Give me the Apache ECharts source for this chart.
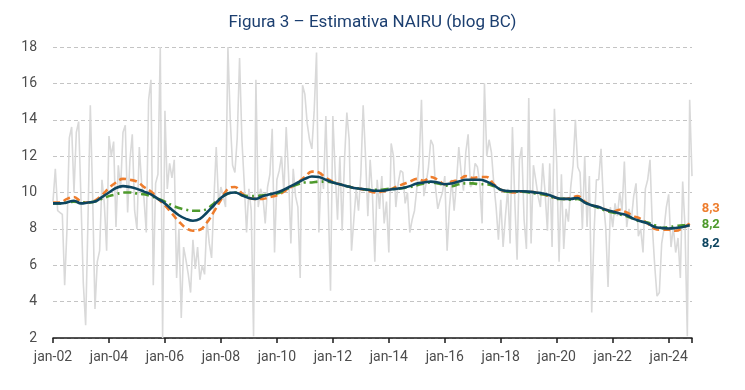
<!DOCTYPE html>
<html>
<head>
<meta charset="utf-8">
<script src="https://cdn.jsdelivr.net/npm/echarts@6/dist/echarts.min.js"></script>
<style>
html,body{margin:0;padding:0;background:#fff;}
#chart{width:745px;height:390px;}
</style>
</head>
<body>
<div id="chart"></div>
<script>
// Monthly observed series, jan-2002 .. nov-2024 (light gray)
var observed = [
9.5,11.3,9.0,8.9,8.8,4.9,8.0,13.0,13.6,10.0,13.3,13.9,
9.6,5.0,2.7,8.5,14.8,9.8,3.6,6.2,6.8,10.7,9.4,6.8,
13.1,12.0,12.8,8.1,11.5,10.2,13.3,13.7,8.9,11.8,13.2,9.0,
8.0,12.5,10.5,9.7,7.8,15.1,16.2,4.9,10.5,11.0,18.0,2.0,
14.5,10.2,11.6,10.8,11.8,5.3,8.0,3.1,7.0,6.3,5.5,4.5,
7.4,5.8,7.0,5.2,6.0,5.5,8.5,7.2,6.4,9.6,12.5,9.4,
10.3,9.8,9.2,18.0,14.0,11.5,11.1,13.0,17.4,12.9,10.5,7.8,
10.2,9.0,2.1,16.2,9.2,10.2,9.8,8.3,10.3,11.0,13.5,6.7,
10.7,11.2,12.0,10.0,13.6,11.0,7.2,11.3,9.8,9.2,5.3,15.9,
15.4,13.8,12.9,12.4,14.5,17.7,7.8,11.1,10.2,14.2,9.6,4.6,
14.2,11.1,8.5,12.0,7.9,11.8,14.4,12.9,6.8,8.5,10.2,9.0,
11.0,14.8,12.0,8.7,11.8,9.8,6.2,10.7,9.1,10.9,8.3,9.5,
6.7,12.7,12.0,9.2,10.5,11.2,11.1,9.4,10.0,7.8,8.5,9.0,
10.2,11.6,15.1,9.8,10.5,11.4,12.9,12.6,10.3,9.1,9.6,10.0,
10.9,6.8,9.2,10.7,9.0,10.5,12.5,11.1,10.1,12.2,13.2,10.3,
10.5,11.6,11.4,10.5,8.3,16.0,12.0,12.9,12.2,10.5,9.2,7.4,
9.6,7.0,8.7,10.2,7.2,13.6,9.6,6.3,11.8,12.5,8.5,6.9,
15.2,7.2,11.5,10.7,9.8,9.2,11.6,10.0,7.9,11.6,7.0,14.6,
11.6,6.2,11.0,6.9,9.1,8.4,10.3,11.5,14.0,11.4,11.1,8.0,
12.0,8.1,10.9,3.4,7.8,10.7,10.7,12.4,9.5,8.1,4.8,9.2,
8.1,9.4,8.7,10.0,9.0,11.7,8.1,9.1,8.5,9.8,10.5,7.6,
8.0,6.7,10.2,10.7,11.8,8.1,6.0,4.3,4.5,7.2,8.0,9.2,
9.9,7.0,8.1,6.7,7.5,5.3,10.6,8.1,2.1,15.1,10.9
];
// Quarterly readings (every 3 months from jan-2002) of the three NAIRU estimates
var nairuSolid = [
9.40,9.40,9.45,9.55,9.40,9.45,9.50,9.75,10.00,10.25,10.35,10.30,
10.20,10.05,9.90,9.65,9.40,9.05,8.75,8.55,8.45,8.55,8.90,9.30,
9.70,9.95,10.00,9.85,9.70,9.65,9.80,9.90,10.00,10.15,10.35,10.55,
10.75,10.88,10.85,10.70,10.55,10.45,10.35,10.25,10.20,10.15,10.10,10.10,
10.15,10.20,10.25,10.35,10.50,10.55,10.60,10.55,10.45,10.50,10.60,10.70,
10.70,10.70,10.60,10.40,10.15,10.08,10.07,10.07,10.05,10.00,9.95,9.85,
9.70,9.65,9.65,9.70,9.45,9.30,9.20,9.05,8.95,8.85,8.75,8.55,
8.42,8.30,8.10,8.05,8.02,8.05,8.10,8.20
];
var nairuDashed = [
9.45,9.45,9.65,9.75,9.50,9.45,9.55,9.85,10.25,10.55,10.75,10.70,
10.60,10.30,10.05,9.65,9.30,8.85,8.40,8.05,7.90,7.95,8.35,8.95,
9.60,10.20,10.30,9.95,9.70,9.65,9.65,9.75,9.85,10.05,10.30,10.55,
10.85,11.15,11.10,10.80,10.60,10.45,10.35,10.25,10.20,10.10,10.00,10.05,
10.15,10.30,10.45,10.60,10.75,10.65,10.85,10.70,10.45,10.60,10.70,10.90,
10.80,10.85,10.85,10.45,10.15,10.05,10.00,10.05,10.05,10.00,9.90,9.80,
9.70,9.65,9.70,9.80,9.50,9.30,9.20,9.05,8.95,9.05,8.90,8.70,
8.55,8.30,8.00,7.95,7.95,7.90,8.05,8.30
];
var nairuDashDot = [
9.40,9.40,9.45,9.50,9.45,9.45,9.50,9.65,9.80,9.90,10.00,10.00,
9.95,9.90,9.80,9.65,9.50,9.30,9.15,9.05,9.00,9.00,9.10,9.40,
9.70,9.95,10.00,9.85,9.80,9.80,9.85,9.90,9.95,10.10,10.30,10.45,
10.55,10.55,10.60,10.60,10.55,10.45,10.35,10.25,10.20,10.15,10.15,10.15,
10.20,10.20,10.25,10.30,10.40,10.50,10.55,10.50,10.40,10.35,10.45,10.50,
10.50,10.45,10.45,10.35,10.15,10.05,10.05,10.05,10.00,9.95,9.90,9.80,
9.65,9.65,9.60,9.65,9.45,9.30,9.15,9.00,8.90,8.80,8.70,8.55,
8.40,8.35,8.20,8.05,8.10,8.15,8.20,8.20
];
var endLabels = ['8,3', '8,2', '8,2'];
var xTickLabels = ['jan-02','jan-04','jan-06','jan-08','jan-10','jan-12','jan-14','jan-16','jan-18','jan-20','jan-22','jan-24'];
var yTicks = [2, 4, 6, 8, 10, 12, 14, 16, 18];
var titleText = 'Figura 3 – Estimativa NAIRU (blog BC)';

function monthly(arr){ return arr.map(function(v,i){ return [i, v]; }); }
function quarterly(arr){ return arr.map(function(v,i){ return [i*3, v]; }); }

var chart = echarts.init(document.getElementById('chart'), null, {renderer:'canvas'});
var lastMonth = observed.length - 1;

chart.setOption({
  animation: false,
  backgroundColor: '#ffffff',
  title: {
    text: titleText, left: 'center', top: 9,
    textStyle: {fontFamily: 'Liberation Sans Narrow, Roboto, sans-serif', fontSize: 17, fontWeight: 'normal', color: '#1c3f70'}
  },
  grid: {left: 53, right: 53, top: 47, bottom: 52},
  xAxis: {
    type: 'value', min: 0, max: lastMonth, interval: 24,
    axisLine: {show: true, onZero: false, lineStyle: {color: '#1a1a1a', width: 1.5}},
    axisTick: {show: true, length: 5, lineStyle: {color: '#1a1a1a', width: 1.5}},
    axisLabel: {
      margin: 12, fontFamily: 'Roboto, sans-serif', fontSize: 14, color: '#4d4d4d',
      formatter: function(v){ return (v % 24 === 0) ? (xTickLabels[v/24] || '') : ''; }
    },
    splitLine: {show: false}
  },
  yAxis: {
    type: 'value', min: yTicks[0], max: yTicks[yTicks.length-1], interval: 2,
    axisLine: {show: false}, axisTick: {show: false},
    axisLabel: {margin: 16, fontFamily: 'Roboto, sans-serif', fontSize: 14, color: '#4d4d4d'},
    splitLine: {show: true, lineStyle: {color: '#c4c4c4', type: [4, 3], width: 1}}
  },
  series: [
    {
      type: 'line', data: monthly(observed), symbol: 'none', z: 1,
      lineStyle: {color: '#d9d9d9', width: 1.6}
    },
    {
      type: 'line', data: quarterly(nairuDashed), symbol: 'none', smooth: 0.4, z: 2,
      lineStyle: {color: '#ee7d2d', width: 2.6, type: [7, 4]},
      endLabel: {show: true, formatter: function(){ return endLabels[0]; }, color: '#ee7d2d',
        fontFamily: 'Roboto, sans-serif', fontWeight: 'bold', fontSize: 13, distance: 12, offset: [0, -15]}
    },
    {
      type: 'line', data: quarterly(nairuDashDot), symbol: 'none', smooth: 0.4, z: 3,
      lineStyle: {color: '#4e9a2c', width: 2.6, type: [8, 4, 2, 4]},
      endLabel: {show: true, formatter: function(){ return endLabels[1]; }, color: '#4e9a2c',
        fontFamily: 'Roboto, sans-serif', fontWeight: 'bold', fontSize: 13, distance: 12, offset: [0, 0]}
    },
    {
      type: 'line', data: quarterly(nairuSolid), symbol: 'none', smooth: 0.4, z: 4,
      lineStyle: {color: '#0d4560', width: 2.6},
      endLabel: {show: true, formatter: function(){ return endLabels[2]; }, color: '#0d4560',
        fontFamily: 'Roboto, sans-serif', fontWeight: 'bold', fontSize: 13, distance: 12, offset: [0, 19]}
    }
  ]
});
</script>
</body>
</html>
